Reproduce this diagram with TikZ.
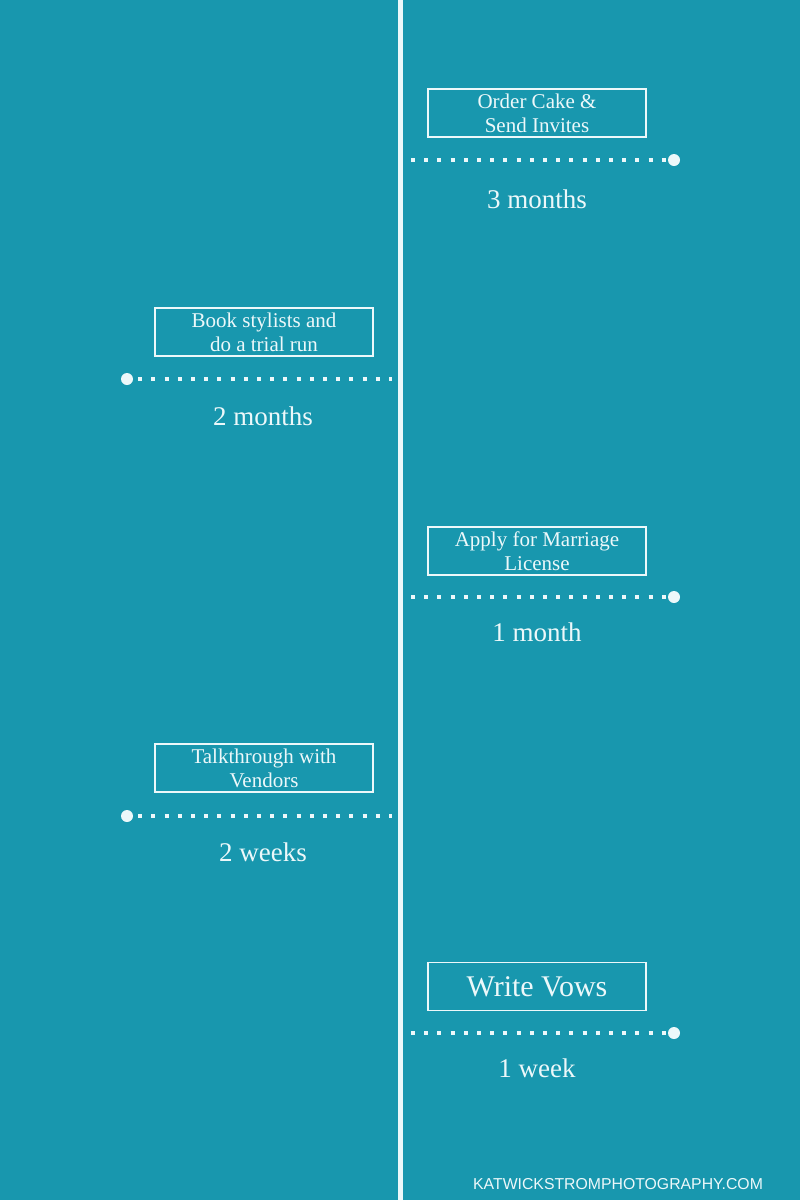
\documentclass[tikz,border=0pt]{standalone}
\usepackage{fontspec}
\setmainfont{Liberation Serif}
\newfontfamily\footfont{Liberation Sans}
\definecolor{bg}{RGB}{24,151,174}
\definecolor{fg}{RGB}{236,248,250}
\begin{document}
\begin{tikzpicture}[x=1pt,y=-1pt,
  every node/.style={text=fg},
  taskbox/.style={draw=fg,line width=1.8pt,minimum width=218pt,minimum height=48pt,inner sep=0pt,align=center,font=\fontsize{21}{24}\selectfont},
  bigbox/.style={taskbox,font=\fontsize{30}{32}\selectfont},
  when/.style={font=\fontsize{27}{29}\selectfont,inner sep=0pt},
  enddot/.style={circle,fill=fg,inner sep=0pt,minimum size=12pt},
  dotline/.style={draw=fg,line width=4pt,dash pattern=on 4pt off 9.2pt}]
\fill[bg] (0,0) rectangle (800,1200);
\useasboundingbox (0,0) rectangle (800,1200);
\coordinate (ltop) at (400,0);
\coordinate (lbot) at (400,1200);
\draw[fg,line width=5pt] (ltop) -- (lbot);
% 1
\node[taskbox] (b1) at (537,113) {Order Cake \&\\Send Invites};
\node[enddot] (d1) at (674,160) {};
\coordinate (c1) at (411,160);
\draw[dotline] (c1) -- ([xshift=-2pt]d1.west);
\node[when] (t1) at (537,199) {3 months};
% 2
\node[taskbox] (b2) at (264,332) {Book stylists and\\do a trial run};
\node[enddot] (d2) at (127,379) {};
\coordinate (c2) at (392,379);
\draw[dotline] ([xshift=5pt]d2.east) -- (c2);
\node[when] (t2) at (263,416) {2 months};
% 3
\node[taskbox] (b3) at (537,551) {Apply for Marriage\\License};
\node[enddot] (d3) at (674,597) {};
\coordinate (c3) at (411,597);
\draw[dotline] (c3) -- ([xshift=-2pt]d3.west);
\node[when] (t3) at (537,632) {1 month};
% 4
\node[taskbox] (b4) at (264,768) {Talkthrough with\\Vendors};
\node[enddot] (d4) at (127,816) {};
\coordinate (c4) at (392,816);
\draw[dotline] ([xshift=5pt]d4.east) -- (c4);
\node[when] (t4) at (263,852) {2 weeks};
% 5
\node[bigbox] (b5) at (537,986.5) {Write Vows};
\node[enddot] (d5) at (674,1033) {};
\coordinate (c5) at (411,1033);
\draw[dotline] (c5) -- ([xshift=-2pt]d5.west);
\node[when] (t5) at (537,1068) {1 week};
% footer
\node[font=\footfont\fontsize{15.8}{17}\selectfont,inner sep=0pt,anchor=west] (web) at (473,1184) {KATWICKSTROMPHOTOGRAPHY.COM};
\end{tikzpicture}
\end{document}
